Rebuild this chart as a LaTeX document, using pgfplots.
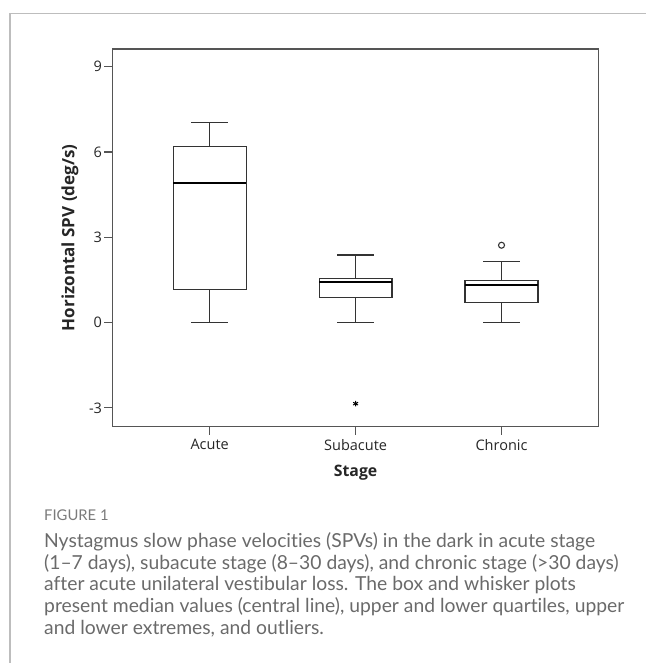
\documentclass[border=0pt]{standalone}
\usepackage{fontspec}
\setmainfont{Open Sans}
\newfontfamily\capfont{Lato}[Ligatures=NoCommon]
\usepackage{pgfplots}
\pgfplotsset{compat=1.18}
\usepgfplotslibrary{statistics}
\definecolor{axgray}{HTML}{555555}
\definecolor{boxgray}{HTML}{333333}
\definecolor{capgray}{HTML}{6A6A6A}
\definecolor{figgray}{HTML}{7A7A7A}
\definecolor{framegray}{HTML}{BDBDBD}
\begin{document}
\begin{tikzpicture}[x=1pt,y=1pt]
\path[use as bounding box] (0,0) rectangle (646,-663);
\draw[framegray, line width=1.2pt] (10,-663) -- (10,-13.6) -- (646,-13.6);
\begin{axis}[
  at={(112.5pt,-49pt)}, anchor=north west,
  scale only axis, width=486.2pt, height=377.7pt,
  xmin=0.334, xmax=3.666, ymin=-3.66, ymax=9.62,
  xtick={1,2,3}, xticklabels={Acute,Subacute,Chronic},
  ytick={-3,0,3,6,9}, yticklabels={-3,0,3,6,9},
  axis line style={axgray, line width=1.3pt},
  tick style={axgray, line width=1.1pt},
  tick align=outside, major tick length=8pt,
  tick pos=left,
  ticklabel style={font=\fontsize{14.5}{16}\selectfont, text=black!85},
  xticklabel style={yshift=-1pt},
  yticklabel style={xshift=1pt},
  xlabel={\bfseries Stage},
  ylabel={\bfseries Horizontal SPV (deg/s)},
  label style={text=black!85},
  xlabel style={font=\fontsize{15.8}{17}\selectfont, at={(axis description cs:0.5,-0.1215)}, anchor=center},
  ylabel style={font=\fontsize{17}{18}\selectfont, at={(axis description cs:-0.0874,0.5)}, anchor=center},
  boxplot/draw direction=y,
  boxplot/every median/.style={line width=2.2pt, draw=black},
  clip=false,
]
\addplot[boxplot prepared={draw position=1, lower whisker=0, lower quartile=1.15,
  median=4.90, upper quartile=6.18, upper whisker=7.04, box extend=0.5, whisker extend=0.25},
  draw=boxgray, line width=1.2pt, fill=white] coordinates {};
\addplot[boxplot prepared={draw position=2, lower whisker=0, lower quartile=0.88,
  median=1.42, upper quartile=1.56, upper whisker=2.38, box extend=0.5, whisker extend=0.25},
  draw=boxgray, line width=1.2pt, fill=white] coordinates {};
\addplot[boxplot prepared={draw position=3, lower whisker=0, lower quartile=0.70,
  median=1.31, upper quartile=1.48, upper whisker=2.16, box extend=0.5, whisker extend=0.25},
  draw=boxgray, line width=1.2pt, fill=white] coordinates {};
\addplot[only marks, mark=asterisk, mark size=2.8pt, mark options={line width=1pt, draw=black}] coordinates {(2,-2.85)};
\addplot[only marks, mark=o, mark size=3pt, mark options={line width=1.1pt, draw=boxgray}] coordinates {(3,2.72)};
\end{axis}
\begin{scope}[every node/.style={anchor=base west, inner sep=0pt, text=capgray}]
\node[font=\capfont\fontsize{14.8}{16}\selectfont, text=figgray] at (44,-520.5) {FIGURE 1};
\node[font=\capfont\fontsize{19.3}{21}\selectfont] at (44,-547) {Nystagmus slow phase velocities (SPVs) in the dark in acute stage};
\node[font=\capfont\fontsize{19.3}{21}\selectfont] at (44,-569) {(1–7 days), subacute stage (8–30 days), and chronic stage (>30 days)};
\node[font=\capfont\fontsize{19.3}{21}\selectfont] at (44,-590.5) {after acute unilateral vestibular loss. The box and whisker plots};
\node[font=\capfont\fontsize{19.3}{21}\selectfont] at (44,-612.5) {present median values (central line), upper and lower quartiles, upper};
\node[font=\capfont\fontsize{19.3}{21}\selectfont] at (44,-634) {and lower extremes, and outliers.};
\end{scope}
\end{tikzpicture}
\end{document}
